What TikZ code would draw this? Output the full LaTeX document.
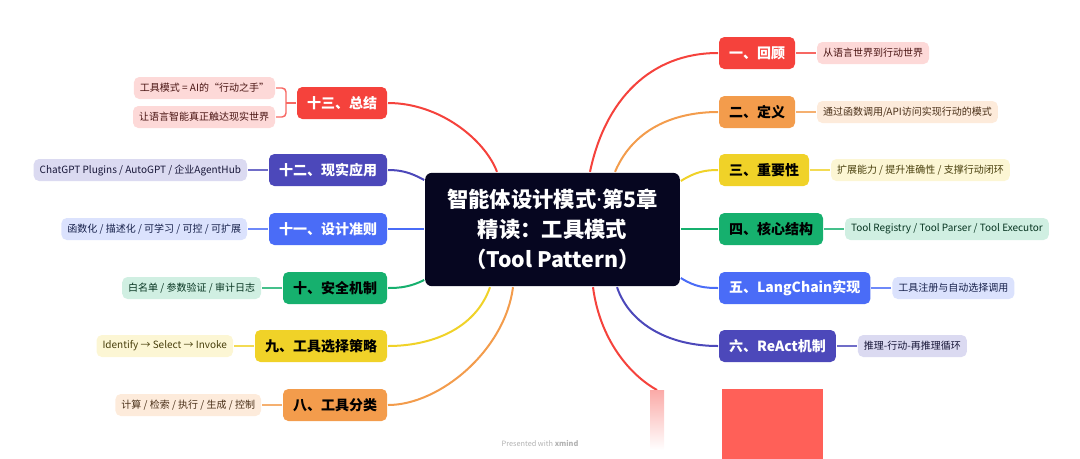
\documentclass[tikz,border=0pt]{standalone}
\usepackage{fontspec}
\setmainfont{Noto Sans CJK SC}
\newfontfamily\latinfont{Noto Sans}
\usetikzlibrary{positioning}
\definecolor{cRoot}{RGB}{6,6,32}
\definecolor{cR}{RGB}{245,66,60}
\definecolor{cO}{RGB}{243,156,76}
\definecolor{cY}{RGB}{240,210,40}
\definecolor{cG}{RGB}{22,176,110}
\definecolor{cB}{RGB}{74,108,247}
\definecolor{cI}{RGB}{76,72,186}
\definecolor{cRB}{RGB}{255,96,88}

\begin{document}
\begin{tikzpicture}[x=0.75pt, y=-0.75pt, node distance=15pt, line width=1.5pt,
    root/.style={fill=cRoot, text=white, rounded corners=5pt, minimum width=191pt, minimum height=85pt,
        align=center, font=\fontsize{16}{22.5}\selectfont\bfseries},
    branch/.style={fill=#1, rounded corners=4pt, minimum height=24pt, inner xsep=7.5pt,
        font=\fontsize{10.5}{12}\selectfont\bfseries},
    leaf/.style={fill=#1!20, text=#1!30!black, rounded corners=4pt, minimum height=16.5pt, inner xsep=4.5pt,
        font=\fontsize{7.5}{9}\selectfont},
    link/.style={draw=#1!80, line width=1.1pt}]
    \useasboundingbox (0,0) rectangle (1080,458);

    % Root
    \node[root] (R) at (552.5,229.5) {智能体设计模式{\latinfont\bfseries ·}第5章\\精读：工具模式\\（Tool Pattern）};

    % Right branches
    \node[branch=cR, text=white, anchor=west] (N1) at (718,53) {一、回顾};
    \node[branch=cO, anchor=west] (N2) at (718,112) {二、定义};
    \node[branch=cY, anchor=west] (N3) at (718,170) {三、重要性};
    \node[branch=cG, anchor=west] (N4) at (718,229) {四、核心结构};
    \node[branch=cB, text=white, anchor=west] (N5) at (718,288) {五、LangChain实现};
    \node[branch=cI, text=white, anchor=west] (N6) at (718,346) {六、ReAct机制};
    \node[fill=cRB, minimum width=76pt, minimum height=53pt, anchor=north west] (N7) at (721,388) {};

    % Left branches
    \node[branch=cO, anchor=east] (N8) at (388,405) {八、工具分类};
    \node[branch=cY, anchor=east] (N9) at (388,346) {九、工具选择策略};
    \node[branch=cG, anchor=east] (N10) at (388,288) {十、安全机制};
    \node[branch=cB, text=white, anchor=east] (N11) at (388,229) {十一、设计准则};
    \node[branch=cI, text=white, anchor=east] (N12) at (388,170) {十二、现实应用};
    \node[branch=cR, text=white, anchor=east] (N13) at (388,103) {十三、总结};

    % Leaves
    \node[leaf=cR] (L1) [right=of N1] {从语言世界到行动世界};
    \node[leaf=cO] (L2) [right=of N2] {通过函数调用/API访问实现行动的模式};
    \node[leaf=cY] (L3) [right=of N3] {扩展能力 / 提升准确性 / 支撑行动闭环};
    \node[leaf=cG] (L4) [right=of N4] {Tool Registry / Tool Parser / Tool Executor};
    \node[leaf=cB] (L5) [right=of N5] {工具注册与自动选择调用};
    \node[leaf=cI] (L6) [right=of N6] {推理-行动-再推理循环};
    \node[leaf=cO] (L8) [left=of N8] {计算 / 检索 / 执行 / 生成 / 控制};
    \node[leaf=cY] (L9) [left=of N9] {Identify → Select → Invoke};
    \node[leaf=cG] (L10) [left=of N10] {白名单 / 参数验证 / 审计日志};
    \node[leaf=cB] (L11) [left=of N11] {函数化 / 描述化 / 可学习 / 可控 / 可扩展};
    \node[leaf=cI] (L12) [left=of N12] {ChatGPT Plugins / AutoGPT / 企业AgentHub};
    \node[leaf=cR, anchor=east] (L13a) at (276,88) {工具模式 = AI的“行动之手”};
    \node[leaf=cR, anchor=east] (L13b) at (276,117) {让语言智能真正触达现实世界};

    % Root to branches
    \draw[cR] (R.north -| 590,0) .. controls (605,100) and (650,53) .. (N1.west);
    \draw[cO] (R.north -| 615,0) .. controls (635,125) and (680,112) .. (N2.west);
    \draw[cY] (R.east |- 0,181) .. controls (695,172) and (705,170) .. (N3.west);
    \draw[cG] (R.east |- N4) -- (N4.west);
    \draw[cB] (R.east |- 0,278) .. controls (695,287) and (705,288) .. (N5.west);
    \draw[cI] (R.south -| 617,0) .. controls (630,325) and (670,346) .. (N6.west);
    \coordinate (C7) at (657,390);
    \draw[cR] (R.south -| 593,0) .. controls (600,340) and (630,375) .. (C7);
    \shade[top color=cR!45, bottom color=white] (650,390) rectangle (664,450);
    \draw[cO] (R.south -| 513,0) .. controls (505,350) and (440,405) .. (N8.east);
    \draw[cY] (R.south -| 490,0) .. controls (475,330) and (430,346) .. (N9.east);
    \draw[cG] (R.west |- 0,280) .. controls (410,287) and (400,288) .. (N10.east);
    \draw[cB] (R.west |- N11) -- (N11.east);
    \draw[cI] (R.west |- 0,180) .. controls (410,172) and (400,170) .. (N12.east);
    \draw[cR] (R.north -| 497,0) .. controls (485,140) and (440,103) .. (N13.east);

    % Branches to leaves
    \draw[link=cR] (N1) -- (L1);
    \draw[link=cO] (N2) -- (L2);
    \draw[link=cY] (N3) -- (L3);
    \draw[link=cG] (N4) -- (L4);
    \draw[link=cB] (N5) -- (L5);
    \draw[link=cI] (N6) -- (L6);
    \draw[link=cO] (N8) -- (L8);
    \draw[link=cY] (N9) -- (L9);
    \draw[link=cG] (N10) -- (L10);
    \draw[link=cB] (N11) -- (L11);
    \draw[link=cI] (N12) -- (L12);
    \coordinate (J13) at (286,103);
    \draw[link=cR] (N13.west) -- (J13);
    \draw[link=cR, rounded corners=3pt] (L13a.east) -- (J13 |- L13a) -- (J13 |- L13b) -- (L13b.east);

    \node[text=black!30, font=\fontsize{5.5}{6}\selectfont] (M) at (540,443) {Presented with \textbf{xmind}};
\end{tikzpicture}
\end{document}
